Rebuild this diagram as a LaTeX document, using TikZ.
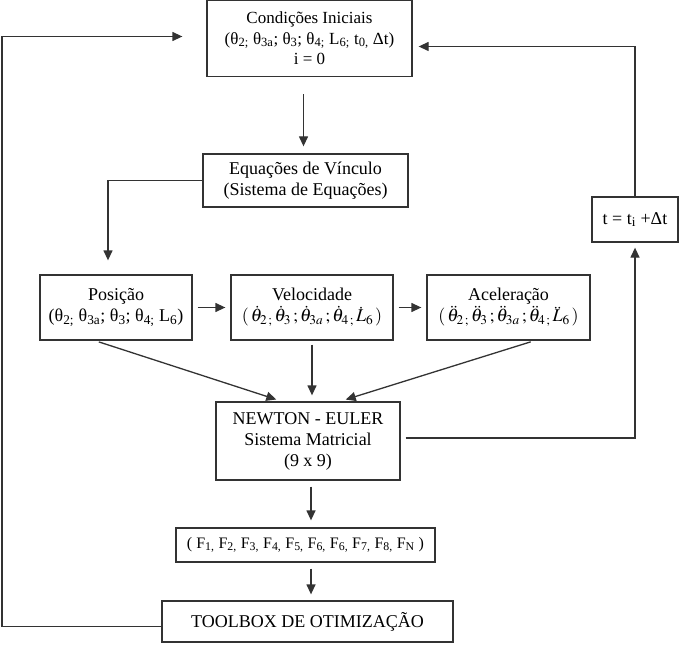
\documentclass[tikz,border=0pt]{standalone}
\usepackage{mathptmx}
\usepackage[no-math]{fontspec}
\setmainfont{Liberation Serif}
\usepackage{tikz}
\usetikzlibrary{arrows.meta}

\begin{document}
\begin{tikzpicture}[x=1pt, y=-1pt, line width=1.3pt, draw=black!80,
    >={Triangle[length=10pt,width=9pt]},
    font=\fontsize{18}{21}\selectfont,
    box/.style = {draw, rectangle, align=center, inner sep=0pt}]
            \useasboundingbox (0,0) rectangle (684,660);

            % Nodes
            \node[box, minimum width=205pt, minimum height=76pt, font=\fontsize{17}{20.5}\selectfont] (cond) at (309.5,38.5)
                {Condições Iniciais\\(θ\textsubscript{2;} θ\textsubscript{3a}; θ\textsubscript{3}; θ\textsubscript{4;} L\textsubscript{6;} t\textsubscript{0,} Δt)\\i = 0};
            \node[box, minimum width=205pt, minimum height=53pt] (eq) at (305.5,180.5)
                {Equações de Vínculo\\(Sistema de Equações)};
            \node[box, minimum width=152pt, minimum height=65pt] (pos) at (116,307.5)
                {Posição\\(θ\textsubscript{2;} θ\textsubscript{3a}; θ\textsubscript{3}; θ\textsubscript{4;} L\textsubscript{6})};
            \node[box, minimum width=162pt, minimum height=65pt] (vel) at (312,307.5)
                {Velocidade\\$(\,\dot\theta_{2\,;}\,\dot\theta_3\,;\dot\theta_{3a}\,;\dot\theta_{4\,;}\,\dot L_6\,)$};
            \node[box, minimum width=163pt, minimum height=65pt] (ace) at (508.5,307.5)
                {Aceleração\\$(\,\ddot\theta_{2\,;}\,\ddot\theta_3\,;\ddot\theta_{3a}\,;\ddot\theta_{4\,;}\,\ddot L_6\,)$};
            \node[box, minimum width=86pt, minimum height=45pt] (t) at (635,219.5)
                {t = t\textsubscript{i} +Δt};
            \node[box, minimum width=184pt, minimum height=78pt] (newton) at (308,441)
                {NEWTON - EULER\\Sistema Matricial\\(9 x 9)};
            \node[box, minimum width=259pt, minimum height=34pt, font=\fontsize{16}{19}\selectfont] (forces) at (305.5,545)
                {( F\textsubscript{1,} F\textsubscript{2,} F\textsubscript{3,} F\textsubscript{4,} F\textsubscript{5,} F\textsubscript{6,} F\textsubscript{6,} F\textsubscript{7,} F\textsubscript{8,} F\textsubscript{N} )};
            \node[box, minimum width=291pt, minimum height=41pt] (toolbox) at (307.5,621.5)
                {TOOLBOX DE OTIMIZAÇÃO};
            \coordinate (loop) at (2,330);

            % Lines
            \draw[->, shorten <=17pt, shorten >=7pt] ([xshift=-2pt]eq.north |- cond.south) -- ([xshift=-2pt]eq.north);
            \draw[->, shorten >=14pt] (eq.west) -| ([xshift=-8pt]pos.north);
            \draw[->, shorten <=5pt, shorten >=5pt] (pos.east) -- (vel.west);
            \draw[->, shorten <=5pt, shorten >=5pt] (vel.east) -- (ace.west);
            \draw[->, shorten <=4pt, shorten >=6pt] ([xshift=-21pt]pos.south) -- ([xshift=-26pt]newton.north);
            \draw[->, shorten <=4pt, shorten >=6pt] (vel.south) -- (vel.south |- newton.north);
            \draw[->, shorten <=4pt, shorten >=6pt] ([xshift=26pt]ace.south) -- ([xshift=32pt]newton.north);
            \draw[->, shorten <=5pt, shorten >=5pt] ([yshift=3pt]newton.east) -| (t.south);
            \draw[->, shorten >=6pt] (t.north) |- ([yshift=-8pt]cond.east);
            \draw[->, shorten <=6pt, shorten >=7pt] ([xshift=3pt]newton.south) -- ([xshift=3pt]newton.south |- forces.north);
            \draw[->, shorten <=6pt, shorten >=6pt] ([xshift=3pt]newton.south |- forces.south) -- ([xshift=3pt]newton.south |- toolbox.north);
            \draw[->, shorten >=24pt] ([yshift=-5pt]toolbox.west) -| (loop) |- ([yshift=2pt]cond.west);

\end{tikzpicture}
\end{document}
